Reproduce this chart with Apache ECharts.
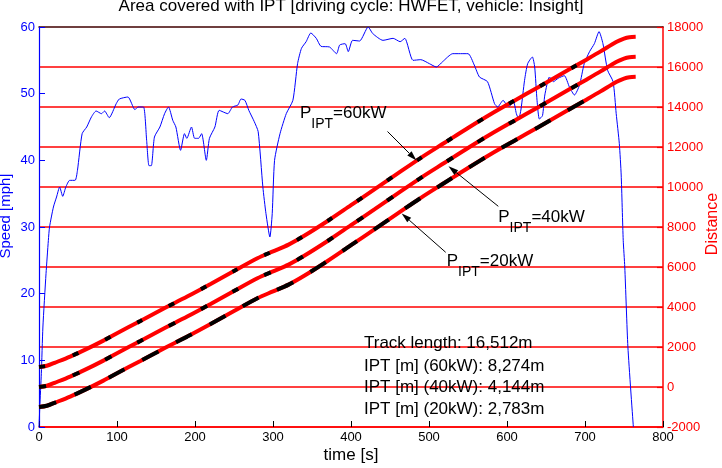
<!DOCTYPE html>
<html>
<head>
<meta charset="utf-8">
<script src="https://cdn.jsdelivr.net/npm/echarts/dist/echarts.min.js"></script>
<style>
html, body { margin: 0; padding: 0; background: #fff; }
#chart { width: 722px; height: 468px; }
</style>
</head>
<body>
<div id="chart"></div>
<script>
// speed profile (HWFET)
var speedTime = [0, 1, 3, 5, 9, 12, 13.5, 18.5, 22.5, 26.5, 30.4, 34.4, 39.4, 46.3, 49.3, 55.3, 61.2, 67.2, 73.2, 80.1,
  84.1, 90, 99, 103, 114, 123, 127, 134, 138, 141, 144, 148, 155, 161, 166, 171.5, 175.5, 181.5, 186.5, 189.5,
  195.5, 199.5, 204.5, 208.5, 214.5, 218.5, 225.5, 231, 242, 248, 255, 259, 264, 269, 276, 281, 287, 291, 296, 299,
  302, 309, 317, 325.5, 331.5, 336.5, 342.5, 348.5, 355.5, 361.5, 372.5, 381.5, 385.5, 392.5, 396.5, 402, 411, 422, 428, 441,
  454, 463, 469, 479.5, 489.5, 500.5, 509.5, 517.5, 530.5, 550, 558, 564.7, 575, 584, 588, 595, 599, 603, 608, 612,
  615, 618, 622.5, 626.5, 632.5, 635.5, 638.5, 641.5, 645.5, 648.5, 654.5, 659.5, 665.5, 673.5, 680, 686.5, 693, 699, 705.8, 712,
  718, 723, 729, 736, 740, 744, 746.4, 749, 751, 755, 762];
var speedMph = [0, 3, 8, 15, 23, 28, 30, 33, 34.5, 36, 34.6, 36, 37, 37, 38.5, 44, 45, 46.5, 47.4, 47,
  47.4, 46.4, 48.5, 49.2, 49.5, 47.6, 48, 48, 43, 39.2, 39.2, 43.5, 45, 47, 48, 46, 45, 41.5, 44, 43.3,
  45, 43.3, 43.3, 44, 40, 43.3, 45, 47.5, 47, 48, 48.3, 49.2, 49, 47.5, 45.8, 44.3, 36, 32, 28.5, 32,
  40, 44, 47, 49, 54.5, 56.8, 57.8, 59.1, 58.3, 57.1, 57, 56, 57.3, 57.5, 56.3, 58, 57.9, 60, 59, 58,
  58.3, 57.8, 58.3, 55, 55.1, 54.5, 54, 54.8, 56, 56, 54.3, 52.5, 51.8, 48.5, 48, 49, 48.4, 48.1, 49, 47,
  46.2, 47.7, 52, 54.5, 55.5, 54, 49, 46.2, 46.7, 49.8, 52.5, 51.8, 52.3, 52.7, 51, 49.8, 51.3, 54.5, 56.3, 57.5,
  59.3, 57.5, 53.5, 51.8, 47, 42.5, 37.8, 28, 24, 12, 0];

// distance travelled, three curves drawn with 1000 m offsets
var distTime = [0, 10, 20, 40, 60, 80, 100, 130, 160, 190, 220, 250, 280, 300, 320, 340, 370, 400, 430, 460,
  490, 520, 550, 580, 610, 640, 670, 700, 720, 740, 750, 757, 765];
var dist60 = [1000, 1060, 1210, 1520, 1880, 2270, 2690, 3300, 3920, 4520, 5150, 5800, 6440, 6780, 7120, 7560, 8300, 9090, 9880, 10680,
  11470, 12210, 12950, 13660, 14330, 14990, 15660, 16330, 16780, 17250, 17420, 17490, 17512];
var dist40 = [0, 60, 210, 520, 880, 1270, 1690, 2300, 2920, 3520, 4150, 4800, 5440, 5780, 6120, 6560, 7300, 8090, 8880, 9680,
  10470, 11210, 11950, 12660, 13330, 13990, 14660, 15330, 15780, 16250, 16420, 16490, 16512];
var dist20 = [-1000, -940, -790, -480, -120, 270, 690, 1300, 1920, 2520, 3150, 3800, 4440, 4780, 5120, 5560, 6300, 7090, 7880, 8680,
  9470, 10210, 10950, 11660, 12330, 12990, 13660, 14330, 14780, 15250, 15420, 15490, 15512];
var blackUntil = 700;

var speedTicks = [0, 60, 10];
var distTicks = [-2000, 18000, 2000];
var timeTicks = [0, 800, 100];

var summaryLines = ['Track length: 16,512m', 'IPT [m] (60kW): 8,274m', 'IPT [m] (40kW): 4,144m', 'IPT [m] (20kW): 2,783m'];
var powerLabels = ['=60kW', '=40kW', '=20kW'];

var FONT = '"Liberation Sans", Arial, Helvetica, sans-serif';
var RED = '#ff0000', BLUE = '#0000ff';

function pairs(xs, ys) {
  return xs.map(function (x, i) { return [x, ys[i]]; });
}
function plain(v) { return String(v); }

var chart = echarts.init(document.getElementById('chart'), null, { renderer: 'canvas' });

var series = [{
  type: 'line', yAxisIndex: 0, data: pairs(speedTime, speedMph),
  symbol: 'none', smooth: 0.2, z: 2,
  lineStyle: { color: BLUE, width: 1 }
}];
var dists = [dist60, dist40, dist20];
var dashes = [[6, 30], [7, 29], [18, 20]];
var nBlack = distTime.indexOf(blackUntil) + 1;
dists.forEach(function (d) {
  series.push({
    type: 'line', yAxisIndex: 1, data: pairs(distTime, d),
    symbol: 'none', smooth: 0.3, z: 3,
    lineStyle: { color: RED, width: 4 }
  });
});
// black dashes over the stretches without IPT
dists.forEach(function (d, i) {
  series.push({
    type: 'line', yAxisIndex: 1, data: pairs(distTime.slice(0, nBlack), d.slice(0, nBlack)),
    symbol: 'none', smooth: 0.3, z: 4,
    lineStyle: { color: '#000', width: 4, type: dashes[i] }
  });
});

function txt(s, x, y, size, color, align, rot) {
  return {
    type: 'text', z: 100, x: x, y: y, rotation: rot || 0,
    style: {
      text: s, fill: color || '#000', font: size + 'px ' + FONT,
      align: align || 'left', textAlign: align || 'left',
      verticalAlign: 'middle', textVerticalAlign: 'middle'
    }
  };
}

function arrow(x1, y1, x2, y2) {
  var dx = x2 - x1, dy = y2 - y1, len = Math.sqrt(dx * dx + dy * dy);
  var ux = dx / len, uy = dy / len;
  var bx = x2 - ux * 10, by = y2 - uy * 10;
  return [
    { type: 'line', z: 100, shape: { x1: x1, y1: y1, x2: bx, y2: by }, style: { stroke: '#000', lineWidth: 1 } },
    { type: 'polygon', z: 100, shape: { points: [[x2, y2], [bx - uy * 3, by + ux * 3], [bx + uy * 3, by - ux * 3]] },
      style: { fill: '#000' } }
  ];
}

var graphics = [
  txt('Area covered with IPT [driving cycle: HWFET, vehicle: Insight]', 351, 6, 17, '#000', 'center'),
  txt('time [s]', 351, 455, 17, '#000', 'center'),
  txt('Speed [mph]', 6, 216, 15, BLUE, 'center', Math.PI / 2),
  txt('Distance', 713, 224, 16, RED, 'center', Math.PI / 2)
];
// P_IPT labels
var pPos = [[300, 113.5], [498.3, 217.5], [446.7, 261.7]];
pPos.forEach(function (p, i) {
  graphics.push(txt('P', p[0], p[1], 17));
  graphics.push(txt('IPT', p[0] + 11.3, p[1] + 10.5, 14));
  graphics.push(txt(powerLabels[i], p[0] + 33.1, p[1], 17));
});
graphics = graphics.concat(arrow(387.5, 131.5, 416.5, 160.5));
graphics = graphics.concat(arrow(498.3, 206.3, 448.5, 166.3));
graphics = graphics.concat(arrow(445.7, 252.3, 401.7, 213.5));
summaryLines.forEach(function (s, i) {
  graphics.push(txt(s, 364, [343.3, 366, 387.5, 409][i], 17));
});

var option = {
  animation: false,
  textStyle: { fontFamily: FONT },
  grid: { left: 39, right: 59, top: 27, bottom: 41, show: false },
  xAxis: [{
    type: 'value', position: 'bottom', min: timeTicks[0], max: timeTicks[1], interval: timeTicks[2],
    axisLine: { show: true, onZero: false, lineStyle: { color: RED, width: 1.5 } },
    axisTick: { show: true, inside: true, length: 6, lineStyle: { color: '#000' } },
    axisLabel: { color: '#000', fontSize: 13, margin: 4, fontFamily: FONT, formatter: plain },
    splitLine: { show: false }
  }, {
    type: 'value', position: 'top', min: timeTicks[0], max: timeTicks[1], interval: timeTicks[2],
    axisLine: { show: true, onZero: false, lineStyle: { color: '#400000', width: 1.5 } },
    axisTick: { show: false }, axisLabel: { show: false }, splitLine: { show: false }
  }],
  yAxis: [{
    type: 'value', position: 'left', min: speedTicks[0], max: speedTicks[1], interval: speedTicks[2],
    axisLine: { show: true, onZero: false, lineStyle: { color: BLUE, width: 1.2 } },
    axisTick: { show: true, inside: true, length: 6, lineStyle: { color: BLUE } },
    axisLabel: { color: BLUE, fontSize: 13, margin: 4, fontFamily: FONT, formatter: plain },
    splitLine: { show: false }
  }, {
    type: 'value', position: 'right', min: distTicks[0], max: distTicks[1], interval: distTicks[2],
    axisLine: { show: true, onZero: false, lineStyle: { color: RED, width: 1.5 } },
    axisTick: { show: true, inside: true, length: 6, lineStyle: { color: RED, width: 1.2 } },
    axisLabel: { color: RED, fontSize: 13, margin: 4, fontFamily: FONT, formatter: plain },
    splitLine: { show: true, showMaxLine: false, lineStyle: { color: RED, width: 1.5 } }
  }],
  series: series,
  graphic: graphics
};
chart.setOption(option);
</script>
</body>
</html>
